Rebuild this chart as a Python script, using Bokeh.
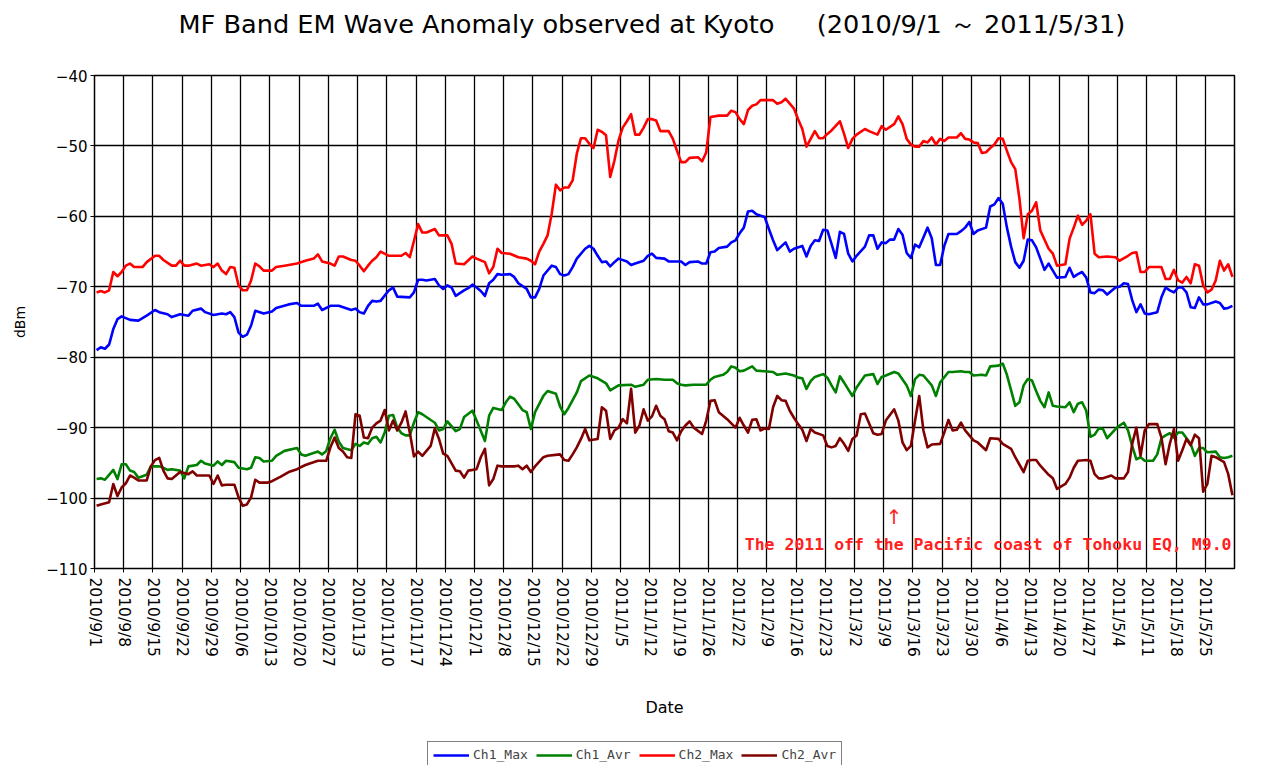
from bokeh.plotting import figure
from bokeh.layouts import column
from bokeh.models import Range1d, FixedTicker, Legend, LegendItem, Label, Title
from bokeh.embed import file_html
from bokeh.resources import INLINE

# ---------------- data (day offset from 2010/9/1, dBm) ----------------
tick_labels = ["2010/9/1", "2010/9/8", "2010/9/15", "2010/9/22", "2010/9/29",
               "2010/10/6", "2010/10/13", "2010/10/20", "2010/10/27", "2010/11/3",
               "2010/11/10", "2010/11/17", "2010/11/24", "2010/12/1", "2010/12/8",
               "2010/12/15", "2010/12/22", "2010/12/29", "2011/1/5", "2011/1/12",
               "2011/1/19", "2011/1/26", "2011/2/2", "2011/2/9", "2011/2/16",
               "2011/2/23", "2011/3/2", "2011/3/9", "2011/3/16", "2011/3/23",
               "2011/3/30", "2011/4/6", "2011/4/13", "2011/4/20", "2011/4/27",
               "2011/5/4", "2011/5/11", "2011/5/18", "2011/5/25"]
tick_days = [0, 7, 14, 21, 28, 35, 42, 49, 56, 63, 70, 77, 84, 91, 98, 105, 112,
             119, 126, 133, 140, 147, 154, 161, 168, 175, 182, 189, 196, 203, 210,
             217, 224, 231, 238, 245, 252, 259, 266]
y_ticks = [-110, -100, -90, -80, -70, -60, -50, -40]

ch1_max_day = [0, 1, 2, 3, 4, 5, 6, 8, 10, 12, 14, 15, 17, 18, 20, 22, 23, 25, 26, 28, 30, 31, 32, 33, 34, 35, 36, 37, 38, 40, 42, 43, 46, 48, 49, 52, 53, 54, 56, 58, 61, 62, 63, 64, 65, 66, 67, 68, 70, 71, 72, 75, 76, 77, 78, 79, 81, 82, 83, 84, 85, 86, 88, 89, 90, 91, 92, 93, 94, 95, 96, 97, 99, 100, 101, 103, 104, 105, 106, 107, 109, 110, 111, 112, 113, 114, 115, 117, 118, 119, 120, 121, 122, 123, 124, 125, 127, 128, 129, 131, 132, 133, 134, 136, 137, 140, 141, 142, 144, 145, 146, 147, 148, 149, 151, 152, 153, 154, 155, 156, 157, 158, 160, 161, 162, 163, 165, 166, 167, 169, 170, 171, 172, 173, 174, 175, 176, 177, 178, 179, 180, 181, 182, 184, 185, 186, 187, 188, 189, 190, 191, 192, 193, 194, 195, 196, 197, 198, 199, 200, 201, 202, 203, 204, 206, 207, 208, 209, 210, 211, 213, 214, 215, 216, 217, 218, 219, 220, 221, 222, 223, 224, 225, 226, 227, 228, 229, 230, 232, 233, 234, 235, 236, 237, 238, 239, 240, 241, 242, 244, 245, 246, 247, 248, 249, 250, 251, 252, 254, 255, 256, 257, 258, 259, 260, 261, 262, 263, 264, 265, 266, 268, 269, 270, 271, 272]
ch1_max_val = [-79.0, -78.6, -78.8, -78.2, -76.0, -74.6, -74.2, -74.7, -74.8, -74.1, -73.3, -73.6, -73.9, -74.3, -73.9, -74.1, -73.4, -73.1, -73.6, -74.0, -73.8, -73.9, -73.6, -74.3, -76.5, -77.1, -76.8, -75.5, -73.4, -73.8, -73.5, -73.0, -72.5, -72.3, -72.7, -72.7, -72.4, -73.3, -72.7, -72.7, -73.3, -73.1, -73.6, -73.8, -72.7, -72.0, -72.1, -72.0, -70.5, -70.1, -71.4, -71.5, -70.8, -69.0, -69.0, -69.1, -68.9, -69.8, -70.3, -69.8, -70.1, -71.3, -70.5, -70.2, -69.7, -70.1, -70.6, -71.3, -69.5, -69.0, -68.2, -68.3, -68.2, -68.6, -69.5, -70.3, -71.5, -71.5, -70.3, -68.4, -67.0, -67.2, -68.2, -68.4, -68.2, -67.2, -66.0, -64.6, -64.2, -64.6, -65.6, -66.5, -66.4, -67.1, -66.5, -66.0, -66.4, -66.9, -66.7, -66.3, -65.6, -65.3, -65.9, -66.0, -66.4, -66.4, -66.9, -66.5, -66.4, -66.7, -66.7, -65.1, -65.0, -64.5, -64.3, -63.7, -63.4, -62.4, -61.6, -59.3, -59.2, -59.7, -60.1, -61.8, -63.4, -64.8, -63.7, -65.0, -64.6, -64.2, -65.7, -64.2, -63.4, -63.5, -61.9, -62.0, -63.9, -65.9, -62.2, -62.5, -65.3, -66.4, -65.6, -64.3, -62.7, -62.7, -64.6, -63.7, -63.8, -63.3, -63.3, -61.8, -62.6, -65.2, -65.9, -64.0, -64.4, -63.0, -61.6, -63.1, -66.9, -66.9, -64.2, -62.5, -62.5, -62.1, -61.6, -60.8, -62.5, -62.0, -61.6, -58.6, -58.3, -57.4, -58.2, -61.6, -64.3, -66.5, -67.3, -66.3, -63.3, -63.4, -64.4, -66.0, -67.6, -66.7, -67.7, -68.7, -68.6, -67.3, -68.6, -68.2, -67.9, -68.7, -70.8, -70.9, -70.4, -70.5, -71.1, -70.1, -70.0, -69.5, -69.6, -71.9, -73.6, -72.5, -73.8, -73.9, -73.6, -71.5, -70.1, -70.5, -70.8, -70.1, -70.1, -70.8, -72.9, -73.0, -71.5, -72.5, -72.5, -72.1, -72.3, -73.1, -73.0, -72.7]

ch1_avr_day = [0, 1, 2, 4, 5, 6, 7, 8, 9, 10, 12, 13, 15, 16, 17, 18, 20, 21, 22, 24, 25, 26, 28, 29, 30, 31, 33, 34, 36, 37, 38, 39, 40, 42, 43, 45, 48, 49, 50, 53, 54, 55, 56, 57, 58, 59, 61, 62, 63, 64, 65, 66, 67, 68, 69, 70, 71, 72, 73, 74, 75, 76, 77, 78, 81, 82, 83, 84, 86, 87, 88, 90, 91, 93, 94, 95, 97, 98, 99, 100, 102, 103, 104, 105, 107, 108, 110, 111, 112, 113, 115, 116, 118, 120, 122, 123, 125, 128, 129, 131, 132, 134, 136, 138, 139, 140, 141, 143, 146, 147, 148, 150, 151, 152, 153, 154, 155, 157, 158, 160, 162, 163, 165, 167, 168, 169, 170, 171, 172, 173, 174, 175, 176, 177, 178, 179, 181, 182, 184, 186, 187, 188, 189, 191, 192, 194, 195, 196, 197, 198, 200, 201, 202, 204, 205, 207, 208, 209, 210, 212, 213, 214, 216, 217, 218, 219, 220, 221, 222, 223, 224, 225, 226, 227, 228, 229, 230, 232, 233, 234, 235, 236, 237, 238, 239, 240, 241, 242, 244, 245, 246, 247, 248, 249, 250, 251, 253, 254, 255, 256, 257, 258, 259, 260, 262, 263, 264, 265, 266, 268, 269, 270, 271, 272]
ch1_avr_val = [-97.3, -97.2, -97.4, -96.0, -97.3, -95.2, -95.2, -96.1, -96.3, -97.1, -96.7, -95.5, -95.5, -95.7, -96.0, -95.9, -96.1, -97.2, -95.5, -95.3, -94.7, -95.1, -95.4, -94.8, -95.3, -94.7, -94.9, -95.7, -95.9, -95.7, -94.2, -94.3, -94.8, -94.7, -94.0, -93.3, -92.9, -93.8, -94.0, -93.4, -93.8, -93.3, -91.5, -90.3, -92.0, -92.9, -93.2, -92.3, -92.6, -92.1, -92.3, -91.5, -91.3, -92.1, -90.7, -88.3, -88.2, -90.0, -90.8, -91.1, -91.1, -89.3, -87.8, -88.1, -89.3, -90.4, -90.2, -89.1, -90.5, -90.2, -88.5, -87.6, -89.0, -91.9, -88.3, -87.2, -87.5, -86.4, -85.6, -85.9, -87.5, -87.8, -90.2, -87.8, -85.5, -84.8, -85.2, -87.0, -88.1, -87.2, -85.0, -83.4, -82.6, -83.0, -83.7, -84.7, -84.0, -83.9, -84.2, -83.9, -83.2, -83.1, -83.2, -83.2, -83.7, -83.9, -84.0, -83.9, -83.9, -83.2, -82.8, -82.5, -82.1, -81.3, -81.5, -82.0, -81.9, -81.3, -81.9, -82.0, -82.1, -82.5, -82.3, -82.6, -82.9, -83.0, -84.5, -83.4, -82.8, -82.6, -82.4, -82.9, -84.0, -85.0, -82.7, -83.6, -85.5, -84.3, -82.6, -82.4, -83.8, -82.8, -82.6, -82.1, -82.3, -84.0, -85.5, -83.1, -82.5, -82.6, -84.0, -85.5, -83.6, -82.1, -82.1, -82.0, -82.1, -82.1, -82.6, -82.5, -82.6, -81.3, -81.2, -80.9, -82.5, -84.7, -86.9, -86.4, -84.0, -83.1, -83.3, -84.8, -86.2, -87.1, -85.0, -86.9, -87.0, -87.1, -86.4, -87.8, -86.6, -86.4, -87.6, -91.3, -91.0, -90.1, -90.2, -91.5, -90.2, -89.7, -89.3, -90.4, -92.6, -94.5, -94.2, -94.7, -94.7, -93.8, -91.5, -91.1, -90.8, -91.4, -90.7, -90.7, -92.3, -94.0, -92.9, -92.9, -93.5, -93.4, -94.2, -94.3, -94.2, -94.0]

ch2_max_day = [0, 1, 2, 3, 4, 5, 6, 7, 8, 9, 11, 12, 14, 15, 16, 18, 19, 20, 21, 22, 24, 25, 27, 28, 29, 30, 31, 32, 33, 34, 35, 36, 37, 38, 39, 40, 42, 43, 45, 48, 50, 52, 53, 54, 56, 57, 58, 59, 61, 62, 63, 64, 65, 66, 67, 68, 70, 73, 74, 75, 76, 77, 78, 79, 81, 82, 84, 85, 86, 88, 90, 91, 93, 94, 95, 96, 97, 99, 101, 103, 104, 105, 106, 107, 108, 109, 110, 111, 112, 113, 114, 115, 116, 117, 118, 119, 120, 121, 122, 123, 124, 125, 126, 127, 128, 129, 130, 131, 132, 133, 134, 135, 137, 138, 139, 140, 141, 142, 144, 145, 146, 147, 149, 151, 152, 153, 154, 155, 156, 157, 158, 159, 162, 163, 164, 165, 166, 167, 168, 169, 170, 171, 172, 173, 174, 175, 176, 178, 179, 180, 181, 182, 184, 185, 187, 188, 189, 191, 192, 193, 194, 195, 196, 197, 198, 199, 200, 201, 202, 203, 204, 206, 207, 208, 209, 210, 211, 212, 213, 214, 215, 216, 217, 218, 219, 220, 221, 222, 223, 224, 225, 226, 228, 229, 230, 232, 233, 234, 235, 236, 237, 238, 239, 240, 242, 244, 245, 247, 248, 249, 250, 251, 252, 255, 256, 257, 258, 259, 260, 261, 262, 263, 264, 265, 266, 267, 268, 269, 270, 271, 272]
ch2_max_val = [-70.8, -70.6, -70.8, -70.5, -67.9, -68.5, -67.9, -67.0, -66.7, -67.2, -67.2, -66.5, -65.6, -65.6, -66.2, -67.0, -67.0, -66.3, -67.0, -67.0, -66.7, -67.0, -66.8, -67.2, -66.7, -67.7, -68.2, -67.2, -67.3, -69.8, -70.5, -70.5, -69.1, -66.7, -67.1, -67.7, -67.7, -67.2, -67.0, -66.7, -66.3, -66.0, -65.4, -66.4, -66.7, -67.0, -65.7, -65.7, -66.2, -66.3, -67.0, -67.8, -67.0, -66.3, -65.8, -65.0, -65.6, -65.6, -65.2, -65.8, -63.5, -61.1, -62.3, -62.3, -61.8, -62.7, -62.7, -63.9, -66.7, -66.8, -65.7, -66.0, -66.5, -68.1, -67.2, -64.6, -65.2, -65.3, -65.8, -66.0, -66.3, -66.8, -65.0, -63.9, -62.7, -59.6, -55.5, -56.3, -55.9, -55.9, -54.9, -51.1, -48.9, -48.9, -49.7, -50.3, -47.7, -48.0, -48.5, -54.4, -52.1, -49.2, -47.4, -46.5, -45.5, -48.4, -48.4, -47.4, -46.2, -46.2, -46.4, -47.9, -47.9, -49.0, -50.7, -52.3, -52.3, -51.7, -51.6, -52.2, -50.9, -45.9, -45.7, -45.7, -45.0, -45.2, -46.2, -46.9, -44.9, -44.3, -44.1, -43.5, -43.5, -44.0, -43.8, -43.3, -44.0, -44.7, -46.2, -47.6, -50.1, -49.0, -47.9, -48.9, -48.9, -48.3, -47.8, -46.5, -48.3, -50.3, -49.0, -48.4, -47.6, -47.9, -48.4, -47.2, -47.7, -46.9, -45.8, -46.9, -49.0, -49.8, -50.1, -50.1, -49.3, -49.5, -48.8, -49.8, -49.0, -49.3, -48.8, -48.8, -48.2, -49.0, -49.1, -49.5, -49.6, -51.0, -50.9, -50.3, -49.8, -48.9, -49.0, -50.7, -52.3, -53.3, -57.5, -63.1, -59.7, -59.2, -58.0, -62.0, -64.6, -65.3, -67.0, -66.8, -63.2, -61.6, -59.9, -61.2, -60.6, -59.7, -65.3, -65.8, -65.7, -65.8, -66.3, -65.6, -65.2, -65.1, -67.9, -67.9, -67.2, -67.2, -68.9, -68.9, -67.6, -69.1, -69.4, -68.6, -69.5, -66.8, -67.0, -69.8, -70.8, -70.4, -69.1, -66.3, -67.7, -66.8, -68.6]

ch2_avr_day = [0, 1, 3, 4, 5, 6, 7, 8, 9, 10, 12, 13, 14, 15, 16, 17, 18, 20, 22, 23, 24, 27, 28, 29, 30, 31, 33, 34, 35, 36, 37, 38, 39, 41, 42, 44, 46, 48, 50, 53, 55, 56, 57, 58, 59, 60, 61, 62, 63, 64, 65, 66, 67, 68, 69, 70, 71, 72, 73, 74, 75, 76, 77, 78, 80, 81, 82, 83, 84, 86, 87, 88, 89, 91, 92, 93, 94, 95, 96, 97, 100, 101, 102, 103, 104, 105, 107, 108, 111, 112, 113, 114, 115, 116, 117, 118, 120, 121, 122, 123, 124, 125, 126, 127, 128, 129, 130, 131, 132, 133, 134, 135, 136, 137, 138, 139, 140, 141, 142, 143, 145, 146, 147, 148, 149, 151, 153, 154, 155, 156, 157, 158, 159, 160, 161, 162, 163, 164, 165, 166, 167, 168, 169, 170, 171, 172, 174, 175, 176, 177, 178, 179, 180, 181, 182, 183, 184, 186, 187, 188, 189, 191, 192, 193, 194, 195, 196, 197, 198, 199, 200, 202, 203, 204, 205, 206, 207, 208, 210, 211, 213, 214, 216, 217, 219, 220, 222, 223, 224, 225, 226, 228, 229, 230, 232, 233, 234, 235, 237, 238, 239, 240, 241, 243, 244, 246, 247, 248, 249, 250, 251, 252, 254, 255, 256, 257, 258, 259, 260, 261, 262, 263, 264, 265, 266, 267, 268, 270, 271, 272]
ch2_avr_val = [-101.1, -100.9, -100.6, -98.0, -99.7, -98.5, -97.9, -96.8, -97.1, -97.5, -97.5, -95.5, -94.6, -94.3, -96.1, -97.2, -97.3, -96.3, -96.6, -96.2, -96.8, -96.8, -98.0, -96.8, -98.2, -98.1, -98.1, -99.9, -101.1, -100.9, -99.9, -97.4, -97.8, -97.8, -97.6, -97.0, -96.3, -95.9, -95.3, -94.7, -94.7, -92.8, -91.4, -92.9, -93.4, -94.2, -94.3, -88.1, -88.3, -91.4, -91.5, -90.0, -89.4, -89.0, -87.5, -90.4, -89.0, -90.4, -89.3, -87.7, -90.7, -94.1, -93.4, -94.0, -92.6, -90.1, -91.6, -93.7, -94.0, -96.1, -96.2, -97.1, -96.1, -95.9, -94.2, -93.0, -98.2, -97.3, -95.4, -95.5, -95.5, -95.4, -95.9, -95.4, -96.3, -95.5, -94.2, -94.0, -93.8, -94.6, -94.7, -93.8, -92.8, -91.6, -90.2, -91.8, -91.6, -87.1, -87.6, -91.6, -90.4, -90.0, -88.8, -89.4, -84.5, -90.7, -89.7, -87.4, -89.0, -88.4, -86.9, -88.3, -88.8, -90.5, -90.7, -91.8, -90.5, -89.7, -89.1, -90.0, -90.9, -89.0, -86.2, -86.1, -87.8, -88.8, -90.0, -88.6, -89.7, -90.7, -88.9, -88.8, -90.4, -90.1, -90.2, -87.1, -85.5, -86.1, -86.2, -87.6, -88.6, -89.5, -90.3, -91.9, -90.2, -90.7, -91.1, -92.6, -92.8, -92.6, -91.5, -92.3, -93.3, -91.6, -91.1, -88.1, -88.0, -90.8, -91.0, -90.9, -89.0, -87.4, -89.0, -92.1, -93.2, -92.6, -89.0, -85.5, -90.4, -92.8, -92.4, -92.3, -90.7, -88.9, -90.4, -90.3, -89.3, -90.4, -91.8, -92.1, -93.2, -91.5, -91.6, -92.3, -93.0, -94.2, -96.3, -94.7, -94.6, -94.6, -95.4, -96.7, -97.2, -98.7, -98.0, -97.1, -95.7, -94.7, -94.6, -94.7, -96.6, -97.2, -97.2, -96.8, -97.2, -97.2, -96.3, -92.3, -90.0, -94.0, -90.4, -89.5, -89.5, -91.4, -95.2, -92.3, -90.2, -94.7, -93.2, -91.6, -92.5, -91.0, -91.5, -99.1, -98.0, -94.0, -94.2, -94.9, -96.6, -99.6]

series_names = ["Ch1_Max", "Ch1_Avr", "Ch2_Max", "Ch2_Avr"]
series_colors = ["#0000FF", "#008000", "#FF0000", "#800000"]

title_text = "MF Band EM Wave Anomaly observed at Kyoto\u3000\u00a0\u00a0(2010/9/1 \uff5e 2011/5/31)"
quake_note = "The 2011 off the Pacific coast of Tohoku EQ, M9.0"
quake_day = 191  # 2011/3/11

# ---------------- main chart ----------------
FONT = "DejaVu Sans"
p = figure(frame_width=1140, frame_height=493,
           min_border_left=94, min_border_right=47,
           min_border_top=75, min_border_bottom=172,
           x_range=Range1d(0, 273), y_range=Range1d(-110, -40),
           output_backend="svg", toolbar_location=None,
           background_fill_color="white", border_fill_color="white")
p.outline_line_color = "black"
p.outline_line_width = 1.5

p.title.text = title_text
p.title.align = "left"
p.title.offset = 84
p.title.standoff = 4
p.title.text_font = FONT
p.title.text_font_size = "25.6px"
p.title.text_font_style = "normal"
p.title.text_color = "black"
# empty spacer between title and frame
p.add_layout(Title(text=" ", text_font_size="1px", standoff=32), "above")

p.xaxis.ticker = FixedTicker(ticks=tick_days)
p.xaxis.major_label_overrides = {d: s for d, s in zip(tick_days, tick_labels)}
p.xaxis.major_label_orientation = "vertical"
p.xaxis.major_label_text_font_size = "15.5px"
p.xaxis.major_label_standoff = 5
p.xaxis.axis_label = "Date"
p.xaxis.axis_label_standoff = 28
p.xaxis.axis_label_text_font_size = "16px"

p.yaxis.ticker = FixedTicker(ticks=y_ticks)
p.yaxis.major_label_text_font_size = "15px"
p.yaxis.major_label_standoff = 3
p.yaxis.axis_label = "dBm"
p.yaxis.axis_label_standoff = 15
p.yaxis.axis_label_text_font_size = "14px"

for ax in (p.xaxis, p.yaxis):
    ax.axis_line_color = "black"
    ax.major_tick_line_color = "black"
    ax.major_tick_out = 4
    ax.major_tick_in = 0
    ax.minor_tick_line_color = None
    ax.major_label_text_font = FONT
    ax.major_label_text_color = "black"
    ax.axis_label_text_font = FONT
    ax.axis_label_text_font_style = "normal"
    ax.axis_label_text_color = "black"

p.xgrid.ticker = FixedTicker(ticks=tick_days)
p.ygrid.ticker = FixedTicker(ticks=y_ticks)
for g in (p.xgrid, p.ygrid):
    g.grid_line_color = "black"
    g.grid_line_width = 1.3
    g.grid_line_alpha = 1.0

series = [(ch1_max_day, ch1_max_val), (ch1_avr_day, ch1_avr_val),
          (ch2_max_day, ch2_max_val), (ch2_avr_day, ch2_avr_val)]
for (d, v), col in zip(series, series_colors):
    xs = [x + 0.5 for x in d]
    p.line(xs, v, line_color=col, line_width=2.6, line_join="round")

p.add_layout(Label(x=quake_day + 0.5, y=-102.7, text="\u2191",
                   text_font=FONT, text_font_size="20px", text_align="center",
                   text_baseline="middle", text_color="#FF2020"))
p.add_layout(Label(x=214.0, y=-106.6, text=quake_note,
                   text_font="DejaVu Sans Mono", text_font_size="16.5px", text_align="center",
                   text_font_style="bold", text_baseline="middle", text_color="#FF2020"))

# ---------------- legend strip below the chart ----------------
# same side borders as the chart, so the column keeps both frames aligned
leg = figure(width=1281, height=25, min_border_left=94, min_border_right=47,
             min_border_top=0, min_border_bottom=0,
             x_range=Range1d(0, 1), y_range=Range1d(1000, 1001),
             x_axis_type=None, y_axis_type=None,
             output_backend="svg", toolbar_location=None,
             background_fill_color="white", border_fill_color="white")
leg.outline_line_color = None
leg.grid.visible = False
# same series drawn far outside this strip's range: only their legend swatches show
swatches = []
for (d, v), col in zip(series, series_colors):
    swatches.append(leg.line([x + 0.5 for x in d], v, line_color=col, line_width=2.6))
legend = Legend(items=[LegendItem(label=n, renderers=[r]) for n, r in zip(series_names, swatches)],
                location=(333, -3), orientation="horizontal",
                border_line_color="black", border_line_width=1,
                label_text_font="DejaVu Sans Mono", label_text_font_size="13px",
                glyph_width=36, glyph_height=14, label_standoff=4,
                spacing=8, padding=5, margin=0,
                background_fill_color="white", background_fill_alpha=1)
leg.add_layout(legend)

open("out.html", "w").write(file_html(column(p, leg), INLINE))
